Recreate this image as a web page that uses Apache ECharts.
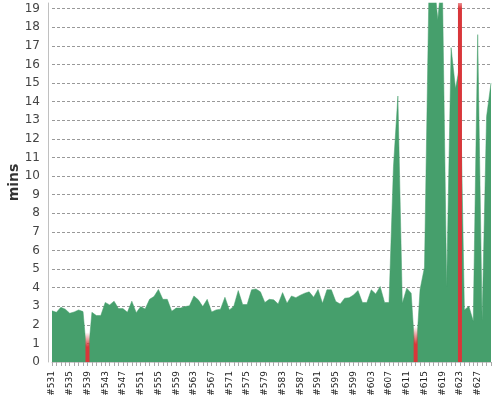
<!DOCTYPE html>
<html>
<head>
<meta charset="utf-8">
<script src="https://cdn.jsdelivr.net/npm/echarts@6/dist/echarts.min.js"></script>
<style>html,body{margin:0;padding:0;background:#fff}#c{width:500px;height:400px}</style>
</head>
<body>
<div id="c"></div>
<script>
// build numbers
var firstBuild = 531;
var buildCount = 100;
var categories = [];
for (var b = 0; b < buildCount; b++) categories.push('#' + (firstBuild + b));

// build durations (mins), successful builds area
var durations = [
  2.75, 2.67, 2.94, 2.84, 2.62, 2.69, 2.80, 2.71, 0.00, 2.67,
  2.50, 2.50, 3.20, 3.07, 3.27, 2.87, 2.87, 2.67, 3.27, 2.65,
  2.98, 2.85, 3.37, 3.52, 3.90, 3.37, 3.37, 2.73, 2.90, 2.90,
  2.98, 3.02, 3.55, 3.34, 2.98, 3.37, 2.69, 2.80, 2.84, 3.48,
  2.80, 3.00, 3.84, 3.09, 3.09, 3.88, 3.93, 3.77, 3.20, 3.37,
  3.34, 3.12, 3.73, 3.16, 3.55, 3.46, 3.59, 3.70, 3.77, 3.48,
  3.90, 3.16, 3.88, 3.88, 3.25, 3.12, 3.43, 3.45, 3.60, 3.84,
  3.20, 3.20, 3.88, 3.66, 4.06, 3.20, 3.20, 10.5, 14.3, 3.16,
  3.97, 3.70, 0.00, 3.90, 5.10, 20.0, 21.0, 18.4, 21.0, 4.06,
  16.9, 14.7, 16.0, 2.80, 3.00, 2.20, 17.6, 2.26, 13.2, 15.0
];

// failed builds: category and bar value (mins)
var failedBuilds = ['#539', '#613', '#623'];
var failedValues = [1.6, 1.9, 25];

// y axis
var yMin = 0, yMax = 19.3, yInterval = 1;

var RED = '217,54,58';
var failedData = categories.map(function () { return null; });
failedBuilds.forEach(function (name, k) {
  var idx = categories.indexOf(name);
  var v = failedValues[k];
  var tall = v > yMax;
  failedData[idx] = {
    value: v,
    itemStyle: {
      color: new echarts.graphic.LinearGradient(0, 0, 0, 1, tall ? [
        {offset: 0, color: 'rgba(' + RED + ',0.55)'},
        {offset: 0.015, color: 'rgba(' + RED + ',1)'},
        {offset: 1, color: 'rgba(' + RED + ',1)'}
      ] : [
        {offset: 0, color: 'rgba(' + RED + ',0)'},
        {offset: 0.5, color: 'rgba(' + RED + ',1)'},
        {offset: 1, color: 'rgba(' + RED + ',1)'}
      ])
    }
  };
});

var chart = echarts.init(document.getElementById('c'), null, {renderer: 'canvas'});
chart.setOption({
  animation: false,
  grid: {left: 52, right: 9, top: 3, bottom: 38, containLabel: false, outerBoundsMode: 'none'},
  xAxis: {
    type: 'category',
    data: categories,
    boundaryGap: false,
    offset: 2,
    axisLine: {lineStyle: {color: '#c8c8c8'}},
    axisTick: {show: true, interval: 0, length: 4, lineStyle: {color: '#aaa'}},
    axisLabel: {
      interval: 3, rotate: 90, margin: 7,
      fontFamily: 'DejaVu Sans', fontSize: 9, color: '#222'
    },
    splitLine: {show: false}
  },
  yAxis: {
    type: 'value',
    min: yMin, max: yMax, interval: yInterval,
    offset: 4,
    name: 'mins',
    nameLocation: 'middle',
    nameGap: 27,
    nameMoveOverlap: false,
    nameTextStyle: {fontFamily: 'DejaVu Sans', fontSize: 14, fontWeight: 'bold', color: '#333'},
    axisLine: {show: true, lineStyle: {color: '#c0c0c0'}},
    axisTick: {show: false},
    axisLabel: {
      margin: 8, fontFamily: 'DejaVu Sans', fontSize: 12, color: '#444',
      showMaxLabel: false,
      formatter: function (v) { return (v % 1 === 0) ? String(v) : ''; }
    },
    splitLine: {show: true, showMinLine: false, showMaxLine: false,
      lineStyle: {color: '#999', type: [3, 2], width: 1}}
  },
  series: [
    {
      type: 'line',
      data: durations,
      symbol: 'none',
      smooth: false,
      lineStyle: {width: 0.5, color: '#469f6c'},
      areaStyle: {color: '#469f6c', opacity: 1},
      clip: true,
      z: 2
    },
    {
      type: 'bar',
      data: failedData,
      barWidth: 4,
      barGap: '-100%',
      clip: true,
      z: 3
    }
  ]
});
</script>
</body>
</html>
